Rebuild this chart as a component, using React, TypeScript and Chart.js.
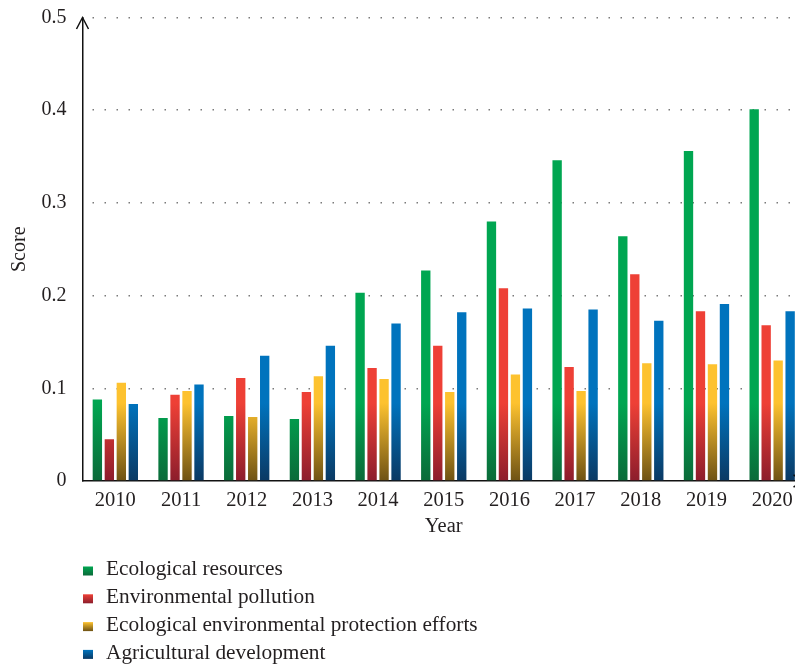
import React, { useEffect, useRef } from "react";
import { Chart, registerables } from "chart.js";

Chart.register(...registerables);

const years = ["2010", "2011", "2012", "2013", "2014", "2015", "2016", "2017", "2018", "2019", "2020"];
const seriesNames = [
  "Ecological resources",
  "Environmental pollution",
  "Ecological environmental protection efforts",
  "Agricultural development",
];
const ecologicalResources = [0.088, 0.068, 0.070, 0.067, 0.203, 0.227, 0.280, 0.346, 0.264, 0.356, 0.401];
const environmentalPollution = [0.045, 0.093, 0.111, 0.096, 0.122, 0.146, 0.208, 0.123, 0.223, 0.183, 0.168];
const protectionEfforts = [0.106, 0.097, 0.069, 0.113, 0.110, 0.096, 0.115, 0.097, 0.127, 0.126, 0.130];
const agriculturalDevelopment = [0.083, 0.104, 0.135, 0.146, 0.170, 0.182, 0.186, 0.185, 0.173, 0.191, 0.183];
const yTicks = [0, 0.1, 0.2, 0.3, 0.4, 0.5];

const brightColors = ["#00A651", "#EE4036", "#FDC22F", "#0073BD"];
const darkColors = ["#0B6A39", "#8C1D2C", "#6E5214", "#0B3963"];

const FONT = "'Liberation Serif', 'Times New Roman', serif";
const TEXT = "#231F20";

function barGradient(chart: any, i: number) {
  const area = chart.chartArea;
  if (!area) return brightColors[i];
  const g = chart.ctx.createLinearGradient(0, area.bottom, 0, area.bottom - 78);
  g.addColorStop(0, darkColors[i]);
  g.addColorStop(1, brightColors[i]);
  return g;
}

const decorPlugin = {
  id: "decor",
  afterDraw(chart: any) {
    const { ctx, chartArea } = chart;
    ctx.save();
    // axis arrows
    ctx.strokeStyle = "#111";
    ctx.lineWidth = 1.5;
    ctx.beginPath();
    ctx.moveTo(chartArea.left - 6, chartArea.top + 11.5);
    ctx.lineTo(chartArea.left, chartArea.top);
    ctx.lineTo(chartArea.left + 6, chartArea.top + 11.5);
    ctx.stroke();
    ctx.beginPath();
    ctx.moveTo(chartArea.right - 11.5, chartArea.bottom - 6);
    ctx.lineTo(chartArea.right, chartArea.bottom);
    ctx.lineTo(chartArea.right - 11.5, chartArea.bottom + 6);
    ctx.stroke();
    // legend
    const ds = chart.data.datasets;
    ctx.font = `21.3px ${FONT}`;
    ctx.textBaseline = "middle";
    ctx.textAlign = "left";
    for (let i = 0; i < ds.length; i++) {
      const y = 571 + i * 27.8;
      const g = ctx.createLinearGradient(0, y - 4.5, 0, y + 4.5);
      g.addColorStop(0, brightColors[i]);
      g.addColorStop(1, darkColors[i]);
      ctx.fillStyle = g;
      ctx.fillRect(83, y - 4.5, 10, 9);
      ctx.fillStyle = TEXT;
      ctx.fillText(ds[i].label, 106, y - 1.5);
    }
    ctx.restore();
  },
};

export default function App() {
  const ref = useRef<HTMLCanvasElement>(null);
  useEffect(() => {
    if (!ref.current) return;
    const values = [ecologicalResources, environmentalPollution, protectionEfforts, agriculturalDevelopment];
    const chart = new Chart(ref.current, {
      type: "bar",
      data: {
        labels: years,
        datasets: values.map((d, i) => ({
          label: seriesNames[i],
          data: d,
          backgroundColor: (c: any) => barGradient(c.chart, i),
          borderWidth: 0,
          categoryPercentage: 0.73,
          barPercentage: 0.78,
        })),
      },
      options: {
        responsive: false,
        maintainAspectRatio: false,
        animation: false,
        devicePixelRatio: 1,
        layout: { padding: { left: 0, top: 17.5, right: 25, bottom: 126 } },
        plugins: { legend: { display: false }, tooltip: { enabled: false } },
        scales: {
          x: {
            grid: { display: false, drawTicks: false },
            border: { display: true, color: "#111", width: 1.5 },
            ticks: { color: TEXT, font: { family: FONT, size: 20.5 }, padding: 7, maxRotation: 0, autoSkip: false },
            title: { display: true, text: "Year", color: TEXT, font: { family: FONT, size: 20.5 }, padding: { top: 0, bottom: 2 } },
            afterFit: (s: any) => {
              s.height = 60;
              s.paddingLeft = 0;
              s.paddingRight = 0;
            },
          },
          y: {
            min: 0,
            max: 0.5,
            afterBuildTicks: (s: any) => {
              s.ticks = yTicks.map((v) => ({ value: v }));
            },
            grid: {
              drawTicks: false,
              lineWidth: 1.5,
              color: (c: any) => (c.tick && c.tick.value === 0 ? "rgba(0,0,0,0)" : "#7a7a7a"),
            },
            border: { display: true, color: "#111", width: 1.5, dash: [1.5, 10.5], dashOffset: -9 },
            ticks: {
              color: TEXT,
              font: { family: FONT, size: 20 },
              padding: 16,
              callback: (v: any) => String(Number(v)),
            },
            title: { display: true, text: "Score", color: TEXT, font: { family: FONT, size: 20 }, padding: { top: 8, bottom: 0 } },
            afterFit: (s: any) => {
              s.width = 82.5;
              s.paddingTop = 0;
              s.paddingBottom = 0;
            },
          },
        },
      },
      plugins: [decorPlugin],
    });
    return () => chart.destroy();
  }, []);
  return (
    <div style={{ position: "absolute", left: 0, top: 0, width: 795, height: 667, overflow: "hidden", background: "#fff" }}>
      <canvas ref={ref} width={830} height={667} style={{ display: "block" }} />
    </div>
  );
}
